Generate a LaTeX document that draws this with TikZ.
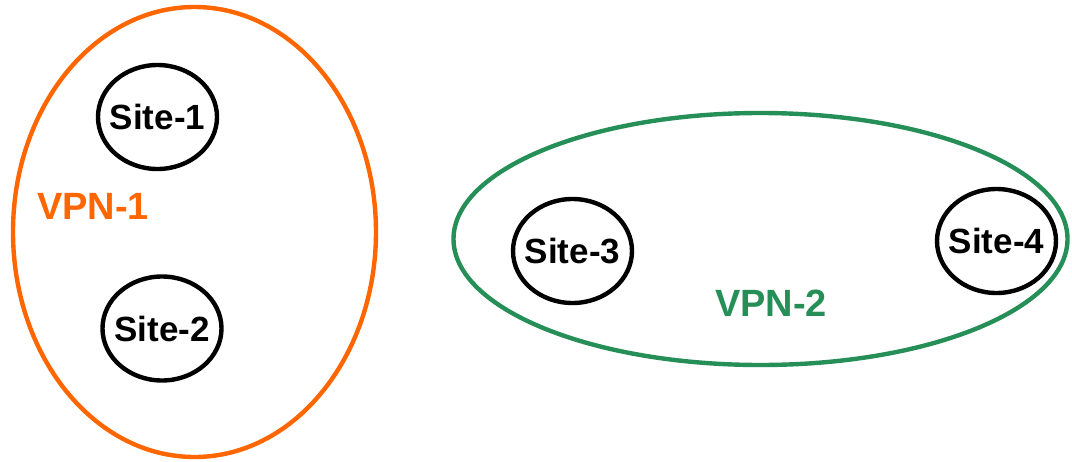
\documentclass[tikz,border=0pt]{standalone}
\usepackage{fontspec}
\setmainfont{Liberation Sans}
\usepackage{xcolor}
\usepackage{tikz}
\usetikzlibrary{positioning,shapes.geometric}
\definecolor{vpnorange}{RGB}{255,102,0}
\definecolor{vpngreen}{RGB}{38,143,87}

\begin{document}
\begin{tikzpicture}[
  x=0.5pt, y=-0.5pt,
  site/.style={ellipse, draw=black, line width=2.2pt, inner ysep=0pt,
    inner xsep=-4pt, minimum width=59.5pt, minimum height=52pt,
    font=\fontsize{17.5}{20}\selectfont\bfseries},
  vpnone/.style={ellipse, draw=vpnorange, line width=2.2pt, inner sep=0pt,
    minimum width=181.5pt, minimum height=225pt},
  vpntwo/.style={ellipse, draw=vpngreen, line width=2.2pt, inner sep=0pt,
    minimum width=307pt, minimum height=126pt},
  vpnlabel/.style={font=\fontsize{19}{22}\selectfont\bfseries, inner sep=0pt},
]
\useasboundingbox (0,0) rectangle (1072,461);
\node[vpnone] (vpn1) at (194.5,232) {};
\node[vpntwo] (vpn2) at (760.5,239) {};
\node[site] (site1) at (157.5,117) {Site-1};
\node[site] (site2) at (162,328.5) {Site-2};
\node[site] (site3) at (572.5,251) {Site-3};
\node[site] (site4) at (996.5,241) {Site-4};
\node[vpnlabel, text=vpnorange] (lab1) at (93,206) {VPN-1};
\node[vpnlabel, text=vpngreen]  (lab2) at (771,303) {VPN-2};
\end{tikzpicture}
\end{document}
